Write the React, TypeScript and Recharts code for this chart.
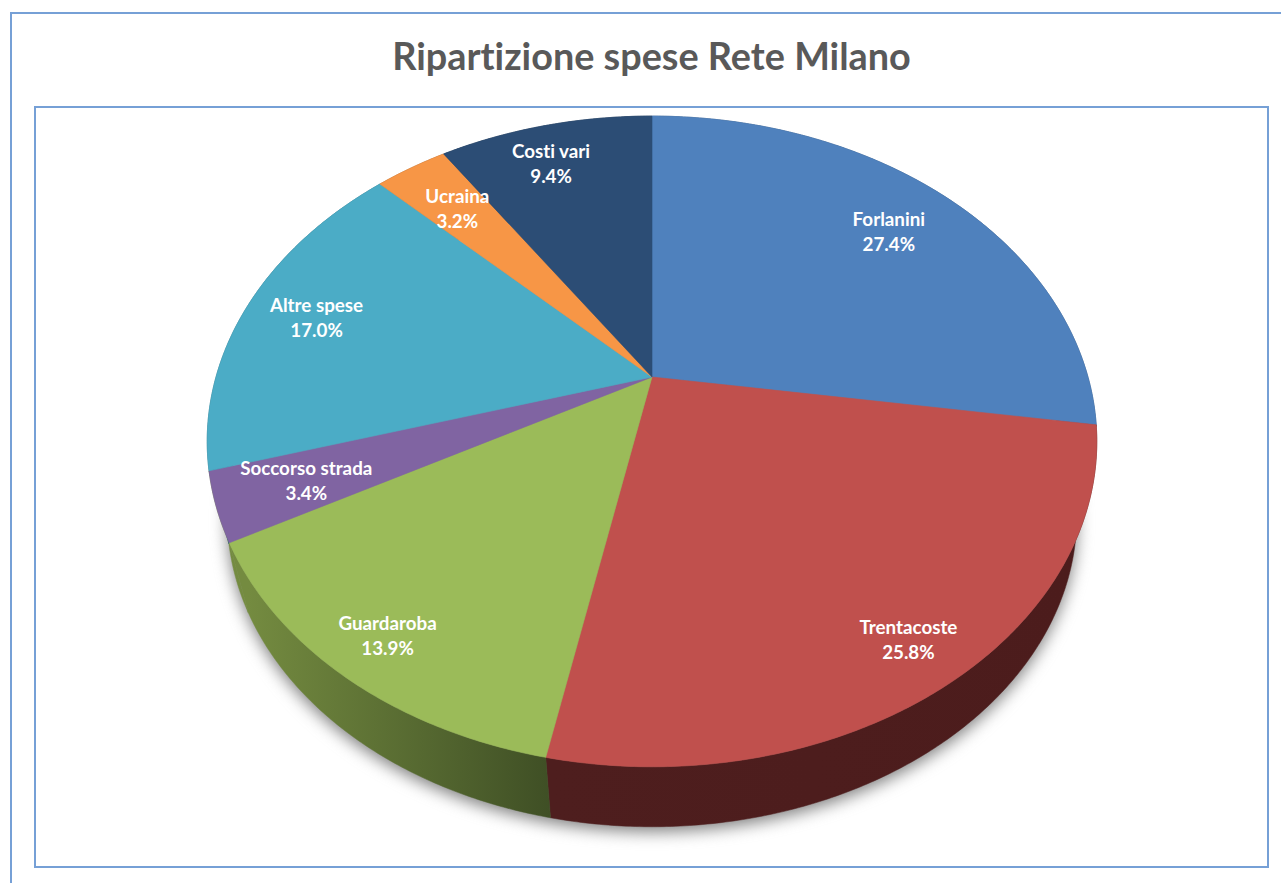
import React from "react";
import { PieChart, Pie, Cell } from "recharts";

const categories = ["Forlanini", "Trentacoste", "Guardaroba", "Soccorso strada", "Altre spese", "Ucraina", "Costi vari"];
const shares = [27.4, 25.8, 13.9, 3.4, 17.0, 3.2, 9.4];
const topColors = ["#4f81bd", "#c0504d", "#9bbb59", "#8064a2", "#4bacc6", "#f79646", "#2c4d75"];
const wallStart = ["#2f4d71", "#4e1e1e", "#748b40", "#748b40", "#2d6776", "#94592a", "#1a2e46"];
const wallEnd = ["#2f4d71", "#4c1c1c", "#3f4f25", "#748b40", "#2d6776", "#94592a", "#1a2e46"];
const labelDepth = [0.79, 0.878, 0.88, 0.806, 0.825, 0.785, 0.835];
const labelTurn = [0, 0, 0, 0, 0, 0, 1.8];

const data = categories.map((name, i) => ({ name, value: shares[i] }));

const FONT = "Lato, Carlito, sans-serif";
const TILT = 0.717;
const PERSPECTIVE = 0.198;
const LOWER_SCALE = 0.955;
const LOWER_SHIFT = 77.5;

type Pt = [number, number];

function project(cx: number, cy: number, R: number, angle: number, r = 1): Pt {
  const t = ((90 - angle) * Math.PI) / 180;
  const u = r * Math.sin(t);
  const v = r * Math.cos(t);
  const w = 1 + PERSPECTIVE * v;
  return [cx + (R * u) / w, cy - (R * TILT * v) / w];
}

function lower(p: Pt, cx: number, cy: number): Pt {
  return [cx + (p[0] - cx) * LOWER_SCALE, cy + LOWER_SHIFT + (p[1] - cy) * LOWER_SCALE];
}

function arc(cx: number, cy: number, R: number, a0: number, a1: number): Pt[] {
  const n = Math.max(2, Math.ceil(Math.abs(a1 - a0) * 2));
  const pts: Pt[] = [];
  for (let i = 0; i <= n; i++) pts.push(project(cx, cy, R, a0 + ((a1 - a0) * i) / n));
  return pts;
}

const toPath = (pts: Pt[]) =>
  "M" + pts.map((p) => `${p[0].toFixed(2)},${p[1].toFixed(2)}`).join("L") + "Z";

function TopFace(props: any) {
  const { cx, cy, outerRadius, startAngle, endAngle, fill } = props;
  const pts: Pt[] = [[cx, cy], ...arc(cx, cy, outerRadius, startAngle, endAngle)];
  return <path d={toPath(pts)} fill={fill} stroke={fill} strokeWidth={0.6} />;
}

function WallFace(props: any) {
  const { cx, cy, outerRadius, startAngle, endAngle, index } = props;
  const top = arc(cx, cy, outerRadius, startAngle, endAngle);
  const bottom = top.map((p) => lower(p, cx, cy)).reverse();
  const first = Math.abs(startAngle - 90) < 1e-6;
  const id = `wall-${index}`;
  const xs = bottom.map((p) => p[0]);
  const shadow = arc(cx, cy, outerRadius, 0, 360).map((p) => {
    const q = lower(p, cx, cy);
    return [q[0], q[1] + 5] as Pt;
  });
  return (
    <g>
      {first && (
        <path d={toPath(shadow)} fill="#808080" style={{ filter: "blur(8px)" }} />
      )}
      <defs>
        <linearGradient id={id} gradientUnits="userSpaceOnUse" x1={Math.min(...xs)} x2={Math.max(...xs)} y1={0} y2={0}>
          <stop offset="0" stopColor={wallStart[index]} />
          <stop offset="1" stopColor={wallEnd[index]} />
        </linearGradient>
      </defs>
      <path d={toPath([...top, ...bottom])} fill={`url(#${id})`} stroke={`url(#${id})`} strokeWidth={0.5} />
    </g>
  );
}

function SliceLabel(props: any) {
  const { cx, cy, outerRadius, midAngle, index } = props;
  const [x, y] = project(cx, cy, outerRadius, midAngle + labelTurn[index], labelDepth[index]);
  return (
    <text
      x={x}
      y={y}
      fill="#ffffff"
      textAnchor="middle"
      fontFamily={FONT}
      fontWeight={700}
      fontSize={18.8}
      style={{ fontVariantLigatures: "none" }}
    >
      <tspan x={x} dy={-5}>{categories[index]}</tspan>
      <tspan x={x} dy={25}>{shares[index].toFixed(1)}%</tspan>
    </text>
  );
}

export default function App() {
  return (
    <div style={{ position: "absolute", left: 0, top: 0, width: 1281, height: 883, overflow: "hidden", background: "#fff" }}>
      <div style={{ position: "absolute", left: 10, top: 12, width: 1300, height: 900, border: "2px solid #76a0d6", boxSizing: "border-box" }} />
      <div style={{ position: "absolute", left: 34, top: 106, width: 1235, height: 762, border: "2px solid #76a0d6", boxSizing: "border-box" }} />
      <div style={{ position: "absolute", left: 0, top: 33, width: 1303, textAlign: "center", fontFamily: FONT, fontWeight: 700, fontSize: 37.8, lineHeight: "46px", color: "#595959", fontVariantLigatures: "none" }}>
        Ripartizione spese Rete Milano
      </div>
      <div style={{ position: "absolute", left: 0, top: 0 }}>
        <PieChart width={1281} height={883} margin={{ top: 0, right: 0, bottom: 0, left: 0 }}>
          <Pie
            data={data}
            dataKey="value"
            nameKey="name"
            cx={652}
            cy={377}
            outerRadius={436}
            startAngle={90}
            endAngle={-270}
            stroke="none"
            shape={WallFace}
            isAnimationActive={false}
          />
          <Pie
            data={data}
            dataKey="value"
            nameKey="name"
            cx={652}
            cy={377}
            outerRadius={436}
            startAngle={90}
            endAngle={-270}
            stroke="none"
            shape={TopFace}
            label={SliceLabel}
            labelLine={false}
            isAnimationActive={false}
          >
            {categories.map((c, i) => (
              <Cell key={c} fill={topColors[i]} />
            ))}
          </Pie>
        </PieChart>
      </div>
    </div>
  );
}
